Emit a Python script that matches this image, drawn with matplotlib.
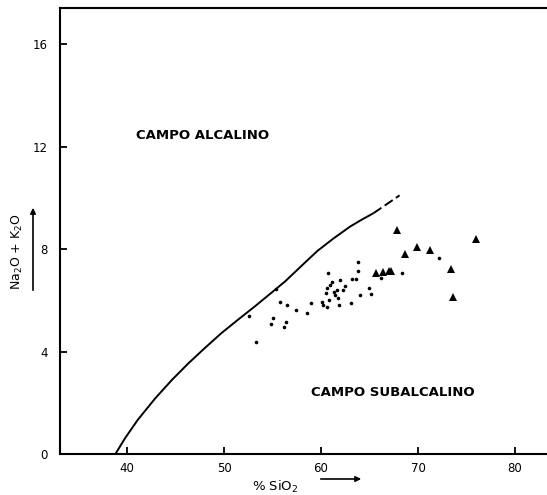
import matplotlib
matplotlib.use("Agg")
from matplotlib import pyplot as plt

# Irvine & Baragar alkaline / subalkaline boundary
curve_sio2 = [38.8, 39.8, 41.1, 42.9, 44.6, 46.3, 48.0, 49.7, 51.5, 53.2, 54.9, 56.3, 58.0, 59.6, 61.3, 63.0, 64.2, 65.4]
curve_alk = [0.0, 0.62, 1.33, 2.17, 2.88, 3.53, 4.13, 4.71, 5.26, 5.77, 6.30, 6.74, 7.35, 7.92, 8.42, 8.88, 9.15, 9.40]
dash_sio2 = [65.4, 66.8, 68.1]
dash_alk = [9.40, 9.76, 10.10]

# samples shown as dots
dot_sio2 = [52.6, 53.3, 55.0, 54.8, 55.8, 56.5, 56.4, 56.2, 55.4, 57.4, 58.6, 59.0,
            60.7, 60.1, 60.2, 60.6, 60.6, 60.9, 61.1, 61.3, 61.4, 61.6, 62.0, 62.3,
            62.5, 61.8, 60.5, 60.8, 61.9, 63.1, 63.2, 63.6, 63.8, 63.8, 64.0, 64.9,
            65.2, 66.2, 68.3, 72.2]
dot_alk = [5.39, 4.36, 5.32, 5.08, 5.95, 5.82, 5.17, 4.97, 6.45, 5.63, 5.50, 5.89,
           7.08, 5.95, 5.82, 5.73, 6.47, 6.60, 6.73, 6.34, 6.21, 6.41, 6.80, 6.41,
           6.54, 6.08, 6.28, 6.02, 5.83, 5.89, 6.82, 6.82, 7.49, 7.15, 6.21, 6.47,
           6.24, 6.86, 7.07, 7.64]

# samples shown as triangles
tri_sio2 = [65.7, 66.4, 67.0, 67.2, 67.8, 68.7, 69.9, 71.2, 73.4, 73.6, 76.0]
tri_alk = [7.06, 7.12, 7.15, 7.15, 8.75, 7.81, 8.10, 7.97, 7.24, 6.12, 8.41]

x_ticks = [40, 50, 60, 70, 80]
y_ticks = [0, 4, 8, 12, 16]

fig = plt.figure(figsize=(5.47, 4.95), dpi=100)
ax = fig.add_axes([0.110, 0.083, 0.890, 0.900])

ax.plot(curve_sio2, curve_alk, color="black", lw=1.4, solid_capstyle="butt")
ax.plot(dash_sio2, dash_alk, color="black", lw=1.4, linestyle=(0, (5, 2)))
ax.plot(dot_sio2, dot_alk, "o", color="black", ms=2.6, mew=0)
ax.plot(tri_sio2, tri_alk, "^", color="black", ms=6, mew=0)

ax.text(47.8, 12.45, "CAMPO ALCALINO", fontsize=9.5, fontweight="bold",
        ha="center", va="center")
ax.text(67.4, 2.4, "CAMPO SUBALCALINO", fontsize=9.5, fontweight="bold",
        ha="center", va="center")

ax.set_xlim(33.1, 83.3)
ax.set_ylim(0, 17.4)
ax.set_xticks(x_ticks)
ax.set_yticks(y_ticks)
ax.tick_params(direction="in", length=5, width=1.3, labelsize=8.5)
ax.tick_params(axis="y", pad=9)
ax.tick_params(axis="x", pad=6)
for side in ["left", "bottom", "top"]:
    ax.spines[side].set_linewidth(1.5)
ax.spines["right"].set_visible(False)

# axis titles with arrows, placed in figure coordinates like the scan
fig.text(17 / 547, 1 - 252 / 495, "Na$_2$O + K$_2$O", rotation=90,
         fontsize=9, ha="center", va="center")
fig.add_artist(matplotlib.patches.FancyArrowPatch(
    (33 / 547, 1 - 293 / 495), (33 / 547, 1 - 205 / 495),
    transform=fig.transFigure, arrowstyle="-|>", mutation_scale=8,
    color="black", lw=1.2))
fig.text(275 / 547, 1 - 487 / 495, "% SiO$_2$", fontsize=9.5,
         ha="center", va="center")
fig.add_artist(matplotlib.patches.FancyArrowPatch(
    (318 / 547, 1 - 479 / 495), (364 / 547, 1 - 479 / 495),
    transform=fig.transFigure, arrowstyle="-|>", mutation_scale=8,
    color="black", lw=1.2))

fig.savefig("out.png", dpi=100)
